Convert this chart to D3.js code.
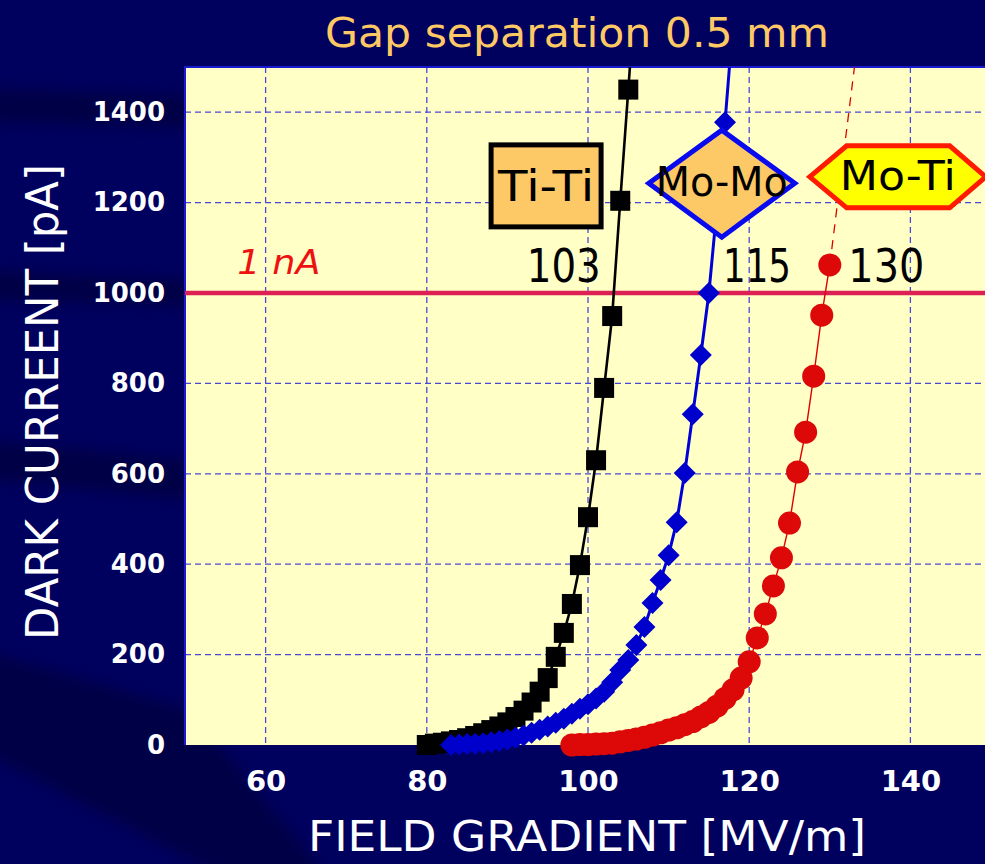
<!DOCTYPE html>
<html>
<head>
<meta charset="utf-8">
<script src="https://cdn.jsdelivr.net/npm/d3@7"></script>
<style>
  html, body { margin: 0; padding: 0; background: #00005f; }
  svg { display: block; }
</style>
</head>
<body>
<svg id="chart" width="985" height="864"></svg>
<script>
// ---- Data: dark current [pA] vs field gradient [MV/m], gap 0.5 mm ----
const tiTiField   = [80,81,82,83,84,85,86,87,88,89,90,91,92,93,94,95,96,97,98,99,100,101,102,103,104,105,106];
const tiTiCurrent = [0,3,5,8,11,15,20,26,33,41,50,62,76,94,118,148,195,248,312,398,504,630,790,949,1204,1450,1700];

const moMoField   = [83,84,85,86,87,88,89,90,91,92,93,94,95,96,97,98,99,100,101,102,103,104,105,106,107,108,109,110,111,112,113,114,115,117,118];
const moMoCurrent = [0,1,2,3,4,6,9,12,16,21,27,34,41,49,58,69,80,90,103,118,139,166,188,221,261,314,365,420,493,602,732,863,1000,1378,1600];

const moTiField   = [98,99,100,101,102,103,104,105,106,107,108,109,110,111,112,113,114,115,116,117,118,119,120,121,122,123,124,125,126,127,128,129,130];
const moTiCurrent = [0,1,1,2,3,4,7,10,13,17,22,27,33,38,45,52,62,72,86,103,122,148,184,237,290,352,414,491,604,692,816,951,1062];
// dashed extrapolation of the Mo-Ti curve
const moTiTrendField   = [130, 133.2];
const moTiTrendCurrent = [1062, 1520];

const xTicks = [60, 80, 100, 120, 140];
const yTicks = [0, 200, 400, 600, 800, 1000, 1200, 1400];
const limitCurrent = 1000;           // 1 nA reference line
const limitLabel = "1 nA";

// electrode pairs and their 1 nA field values
const pairNames  = ["Ti-Ti", "Mo-Mo", "Mo-Ti"];
const pairFields = ["103", "115", "130"];

const titleText  = "Gap separation 0.5 mm";
const xTitleText = "FIELD GRADIENT [MV/m]";
const yTitleText = "DARK CURREENT [pA]";

// ---- Layout ----
const W = 985, H = 864;
const plot = { left: 185, right: 991, top: 67, bottom: 745 };

const svg = d3.select("#chart");
const x = d3.scaleLinear().domain([50, 150]).range([plot.left, plot.right]);
const y = d3.scaleLinear().domain([0, 1500]).range([plot.bottom, plot.top]);

const defs = svg.append("defs");
defs.append("filter").attr("id", "soft")
  .attr("x", "-20%").attr("y", "-50%").attr("width", "140%").attr("height", "200%")
  .append("feGaussianBlur").attr("stdDeviation", 7);
defs.append("clipPath").attr("id", "plotClip")
  .append("rect").attr("x", plot.left).attr("y", plot.top)
  .attr("width", W - plot.left).attr("height", H - plot.top);

// background with darker diagonal shading
svg.append("rect").attr("width", W).attr("height", H).attr("fill", "#00005f");
const shade = svg.append("g").attr("filter", "url(#soft)").attr("fill", "#00002e").attr("opacity", 0.5);
[
  [[-20, 88], [190, 96], [190, 128], [-20, 122]],
  [[-20, 270], [190, 280], [190, 306], [-20, 300]],
  [[-20, 440], [190, 460], [190, 500], [-20, 478]],
  [[-20, 650], [190, 710], [330, 880], [230, 880], [-20, 750]]
].forEach(p => shade.append("path").attr("d", "M" + p.join("L") + "Z"));

// plot area
svg.append("rect")
  .attr("x", plot.left).attr("y", plot.top)
  .attr("width", W - plot.left).attr("height", plot.bottom - plot.top)
  .attr("fill", "#ffffc6");

// grid
const grid = svg.append("g").attr("stroke", "#2a2ad8").attr("stroke-width", 1.3)
  .attr("stroke-dasharray", "6,4").attr("opacity", 0.85);
grid.selectAll(".gx").data(xTicks).join("line")
  .attr("x1", d => x(d)).attr("x2", d => x(d))
  .attr("y1", plot.top).attr("y2", plot.bottom);
grid.selectAll(".gy").data(yTicks.filter(d => d > 0)).join("line")
  .attr("x1", plot.left).attr("x2", W)
  .attr("y1", d => y(d)).attr("y2", d => y(d));

// plot frame (left and top edges)
svg.append("path")
  .attr("d", `M${plot.left},${plot.bottom}V${plot.top}H${W}`)
  .attr("fill", "none").attr("stroke", "#1a1ad0").attr("stroke-width", 2);

// y axis labels
const yAxis = d3.axisLeft(y).tickValues(yTicks).tickSize(0).tickPadding(20).tickFormat(d3.format("d"));
svg.append("g").attr("transform", `translate(${plot.left},0)`).call(yAxis)
  .call(g => g.select(".domain").remove())
  .selectAll("text")
  .attr("fill", "#ffffff").attr("font-family", "DejaVu Sans").attr("font-weight", "bold")
  .attr("font-size", 26);

// x axis labels
const xAxis = d3.axisBottom(x).tickValues(xTicks).tickSize(0).tickPadding(25).tickFormat(d3.format("d"));
svg.append("g").attr("transform", `translate(0,${plot.bottom})`).call(xAxis)
  .call(g => g.select(".domain").remove())
  .selectAll("text")
  .attr("fill", "#ffffff").attr("font-family", "DejaVu Sans").attr("font-weight", "bold")
  .attr("font-size", 29);

// 1 nA reference line
svg.append("line")
  .attr("x1", plot.left).attr("x2", W)
  .attr("y1", y(limitCurrent)).attr("y2", y(limitCurrent))
  .attr("stroke", "#dc1f55").attr("stroke-width", 4.5);
svg.append("text")
  .attr("x", x(56.5)).attr("y", y(1042))
  .attr("fill", "#ee1111").attr("font-family", "DejaVu Sans").attr("font-style", "italic")
  .attr("font-size", 34).attr("textLength", 83).attr("lengthAdjust", "spacingAndGlyphs")
  .text(limitLabel);

// ---- Series ----
const series = [
  { name: pairNames[0], xs: tiTiField, ys: tiTiCurrent, color: "#000000", width: 2.6, marker: "square", fill: "#000000" },
  { name: pairNames[1], xs: moMoField, ys: moMoCurrent, color: "#0000d8", width: 3, marker: "diamond", fill: "#0000cc" },
  { name: pairNames[2], xs: moTiField, ys: moTiCurrent, color: "#e00000", width: 1.4, marker: "circle", fill: "#dd0808" }
];

const plotG = svg.append("g").attr("clip-path", "url(#plotClip)");
const line = d3.line().x(d => x(d[0])).y(d => y(d[1]));

// dashed Mo-Ti extrapolation
plotG.append("path")
  .datum(moTiTrendField.map((f, i) => [f, moTiTrendCurrent[i]]))
  .attr("d", line).attr("fill", "none")
  .attr("stroke", "#e00000").attr("stroke-width", 1.3).attr("stroke-dasharray", "9,7");

const diamondPath = r => `M0,${-r}L${r},0L0,${r}L${-r},0Z`;

series.forEach(s => {
  const pts = s.xs.map((f, i) => [f, s.ys[i]]);
  plotG.append("path").datum(pts).attr("d", line)
    .attr("fill", "none").attr("stroke", s.color).attr("stroke-width", s.width);
});
series.forEach(s => {
  const pts = s.xs.map((f, i) => [f, s.ys[i]]);
  const g = plotG.append("g").attr("fill", s.fill);
  if (s.marker === "square") {
    g.selectAll("rect").data(pts).join("rect")
      .attr("x", d => x(d[0]) - 10).attr("y", d => y(d[1]) - 10)
      .attr("width", 20).attr("height", 20);
  } else if (s.marker === "diamond") {
    g.selectAll("path").data(pts).join("path")
      .attr("transform", d => `translate(${x(d[0])},${y(d[1])})`)
      .attr("d", diamondPath(11));
  } else {
    g.selectAll("circle").data(pts).join("circle")
      .attr("cx", d => x(d[0])).attr("cy", d => y(d[1])).attr("r", 11.5);
  }
});

// ---- Pair labels ----
const labelFont = "DejaVu Sans";
// Ti-Ti box
{
  const cx = x(94.8), cy = y(1237);
  svg.append("rect").attr("x", cx - 55).attr("y", cy - 41).attr("width", 110).attr("height", 82)
    .attr("fill", "#fdc866").attr("stroke", "#000000").attr("stroke-width", 5);
  svg.append("text").attr("x", cx).attr("y", cy + 15).attr("text-anchor", "middle")
    .attr("font-family", labelFont).attr("font-size", 42).attr("fill", "#000")
    .attr("textLength", 96).attr("lengthAdjust", "spacingAndGlyphs").text(pairNames[0]);
}
// Mo-Mo diamond
{
  const cx = x(116.6), cy = y(1243);
  svg.append("path")
    .attr("d", `M${cx - 73},${cy}L${cx},${cy - 53}L${cx + 73},${cy}L${cx},${cy + 54}Z`)
    .attr("fill", "#fdc866").attr("stroke", "#0a0aee").attr("stroke-width", 5).attr("stroke-linejoin", "miter");
  svg.append("text").attr("x", cx).attr("y", cy + 13).attr("text-anchor", "middle")
    .attr("font-family", labelFont).attr("font-size", 40).attr("fill", "#000")
    .attr("textLength", 132).attr("lengthAdjust", "spacingAndGlyphs").text(pairNames[1]);
}
// Mo-Ti hexagon
{
  const cx = x(138.3), cy = y(1257);
  svg.append("path")
    .attr("d", `M${cx - 87},${cy}L${cx - 50},${cy - 31}L${cx + 53},${cy - 31}L${cx + 89},${cy}L${cx + 53},${cy + 31}L${cx - 50},${cy + 31}Z`)
    .attr("fill", "#ffff00").attr("stroke", "#ff1a00").attr("stroke-width", 5).attr("stroke-linejoin", "miter");
  svg.append("text").attr("x", cx + 1).attr("y", cy + 13).attr("text-anchor", "middle")
    .attr("font-family", labelFont).attr("font-size", 40).attr("fill", "#000")
    .attr("textLength", 116).attr("lengthAdjust", "spacingAndGlyphs").text(pairNames[2]);
}
// 1 nA field values
const valuePos = [[92.4, 1024], [116.75, 1024], [132.3, 1024]];
svg.selectAll(".pairValue").data(pairFields).join("text")
  .attr("x", (d, i) => x(valuePos[i][0])).attr("y", (d, i) => y(valuePos[i][1]))
  .attr("font-family", labelFont).attr("font-size", 46).attr("fill", "#000")
  .attr("textLength", (d, i) => [74, 68, 76][i]).attr("lengthAdjust", "spacingAndGlyphs")
  .text(d => d);

// ---- Titles ----
svg.append("text").attr("x", 577).attr("y", 47).attr("text-anchor", "middle")
  .attr("font-family", labelFont).attr("font-size", 40).attr("fill", "#fec965")
  .attr("textLength", 504).attr("lengthAdjust", "spacingAndGlyphs").text(titleText);
svg.append("text").attr("x", 587).attr("y", 851).attr("text-anchor", "middle")
  .attr("font-family", labelFont).attr("font-size", 42).attr("fill", "#ffffff")
  .attr("textLength", 558).attr("lengthAdjust", "spacingAndGlyphs").text(xTitleText);
svg.append("text").attr("transform", "translate(58,402) rotate(-90)").attr("text-anchor", "middle")
  .attr("font-family", labelFont).attr("font-size", 44).attr("fill", "#ffffff")
  .attr("textLength", 476).attr("lengthAdjust", "spacingAndGlyphs").text(yTitleText);
</script>
</body>
</html>
